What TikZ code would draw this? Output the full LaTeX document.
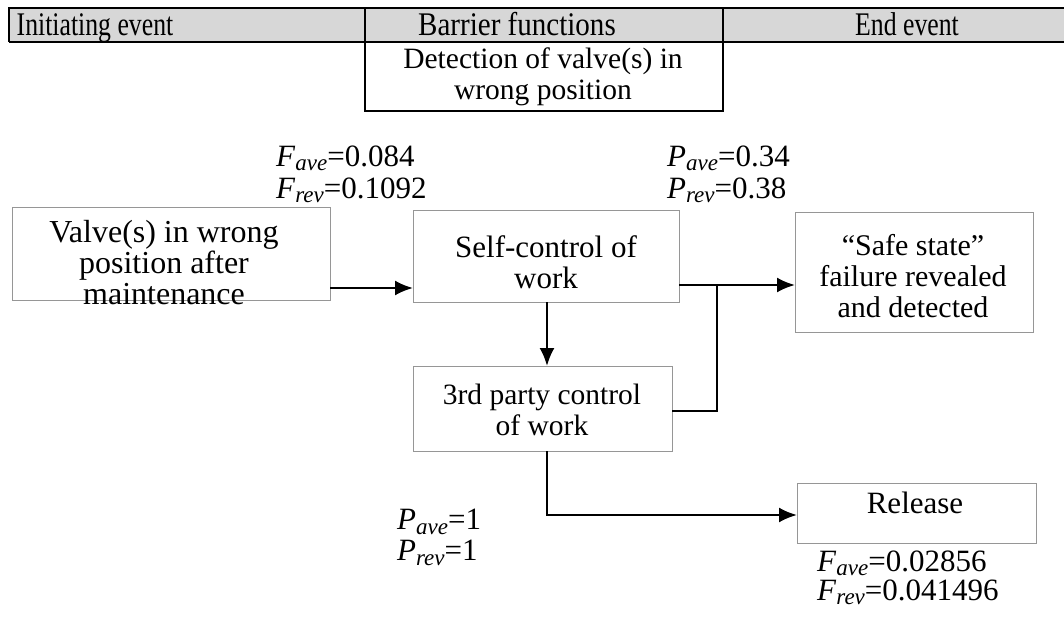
\documentclass[tikz,border=0pt]{standalone}
\usepackage{fontspec}
\setmainfont{Liberation Serif}
\usetikzlibrary{arrows.meta}
\definecolor{hdrgray}{RGB}{215,215,215}
\definecolor{boxline}{RGB}{150,150,150}
\newcommand{\fval}[3]{\textit{#1}\raisebox{-0.3ex}{\fontsize{23}{23}\selectfont\textit{#2}}=#3}
\begin{document}
\begin{tikzpicture}[x=1pt,y=-1pt,
  every node/.style={font=\fontsize{31}{31}\selectfont, inner sep=0pt},
  hdr/.style={font=\fontsize{33}{33}\selectfont, anchor=base},
  evbox/.style={draw=boxline, line width=0.9pt, fill=white},
  flow/.style={line width=2.3pt, -{Latex[length=18pt,width=15pt]}},
  link/.style={line width=2.3pt},
  txt/.style={align=center},
  val/.style={anchor=west}]
\useasboundingbox (0,0) rectangle (1064,617);
\fill[white] (0,0) rectangle (1064,617);

% header band
\path[fill=hdrgray] (9,8) rectangle (1064,42);
\draw[line width=2.4pt] (9,42) -- (9,8) -- (1064,8);
\draw[line width=2.4pt] (9,42) -- (1064,42);
\draw[line width=1.6pt] (365,8) -- (365,42);
\draw[line width=1.6pt] (723,8) -- (723,42);
\node[hdr] (h1) at (95,36) {\scalebox{0.78}[1]{Initiating event}};
\node[hdr] (h2) at (517,36) {\scalebox{0.88}[1]{Barrier functions}};
\node[hdr] (h3) at (907,36) {\scalebox{0.78}[1]{End event}};

% barrier function title box
\draw[line width=1.6pt] (365,42) -- (365,111) -- (723,111) -- (723,42);
\node[txt, font=\fontsize{29.5}{31}\selectfont] (det) at (543,77) {Detection of valve(s) in\\wrong position};

% event boxes
\draw[evbox] (12,207) rectangle (330,300);
\node[txt, font=\fontsize{32}{31}\selectfont] (init) at (164,263) {Valve(s) in wrong\\position after\\maintenance};
\coordinate (initE) at (330,288);

\draw[evbox] (413,210) rectangle (679,302);
\node[txt] (self) at (546,262) {Self-control of\\work};
\coordinate (selfW) at (413,288);
\coordinate (selfE) at (679,285);
\coordinate (selfS) at (547,302);

\draw[evbox] (413,366) rectangle (672,451);
\node[txt, font=\fontsize{29.5}{31}\selectfont] (third) at (542,410) {3rd party control\\of work};
\coordinate (thirdN) at (547,366);
\coordinate (thirdE) at (672,411);
\coordinate (thirdS) at (547,451);

\draw[evbox] (795,212) rectangle (1033,332);
\node[txt, font=\fontsize{30}{31}\selectfont] (safe) at (913,276) {``Safe state''\\failure revealed\\and detected};
\coordinate (safeW) at (795,285);

\draw[evbox] (797,483) rectangle (1036,543);
\node (rel) at (915,503) {Release};
\coordinate (relW) at (797,515);

% connectors
\draw[flow] (initE) -- (selfW);
\draw[flow] (selfE) -- (safeW);
\coordinate (join) at (717,285);
\draw[link] (thirdE) -- (717,411) -- (join);
\draw[flow] (selfS) -- (thirdN);
\draw[flow] (thirdS) |- (relW);

% frequencies and probabilities
\node[val] (fa1) at (276,158) {\fval{F}{ave}{0.084}};
\node[val] (fr1) at (276,190) {\fval{F}{rev}{0.1092}};
\node[val] (pa1) at (667,158) {\fval{P}{ave}{0.34}};
\node[val] (pr1) at (667,190) {\fval{P}{rev}{0.38}};
\node[val] (pa2) at (397,522) {\fval{P}{ave}{1}};
\node[val] (pr2) at (397,553) {\fval{P}{rev}{1}};
\node[val] (fa2) at (817,563) {\fval{F}{ave}{0.02856}};
\node[val] (fr2) at (817,592) {\fval{F}{rev}{0.041496}};
\end{tikzpicture}
\end{document}
